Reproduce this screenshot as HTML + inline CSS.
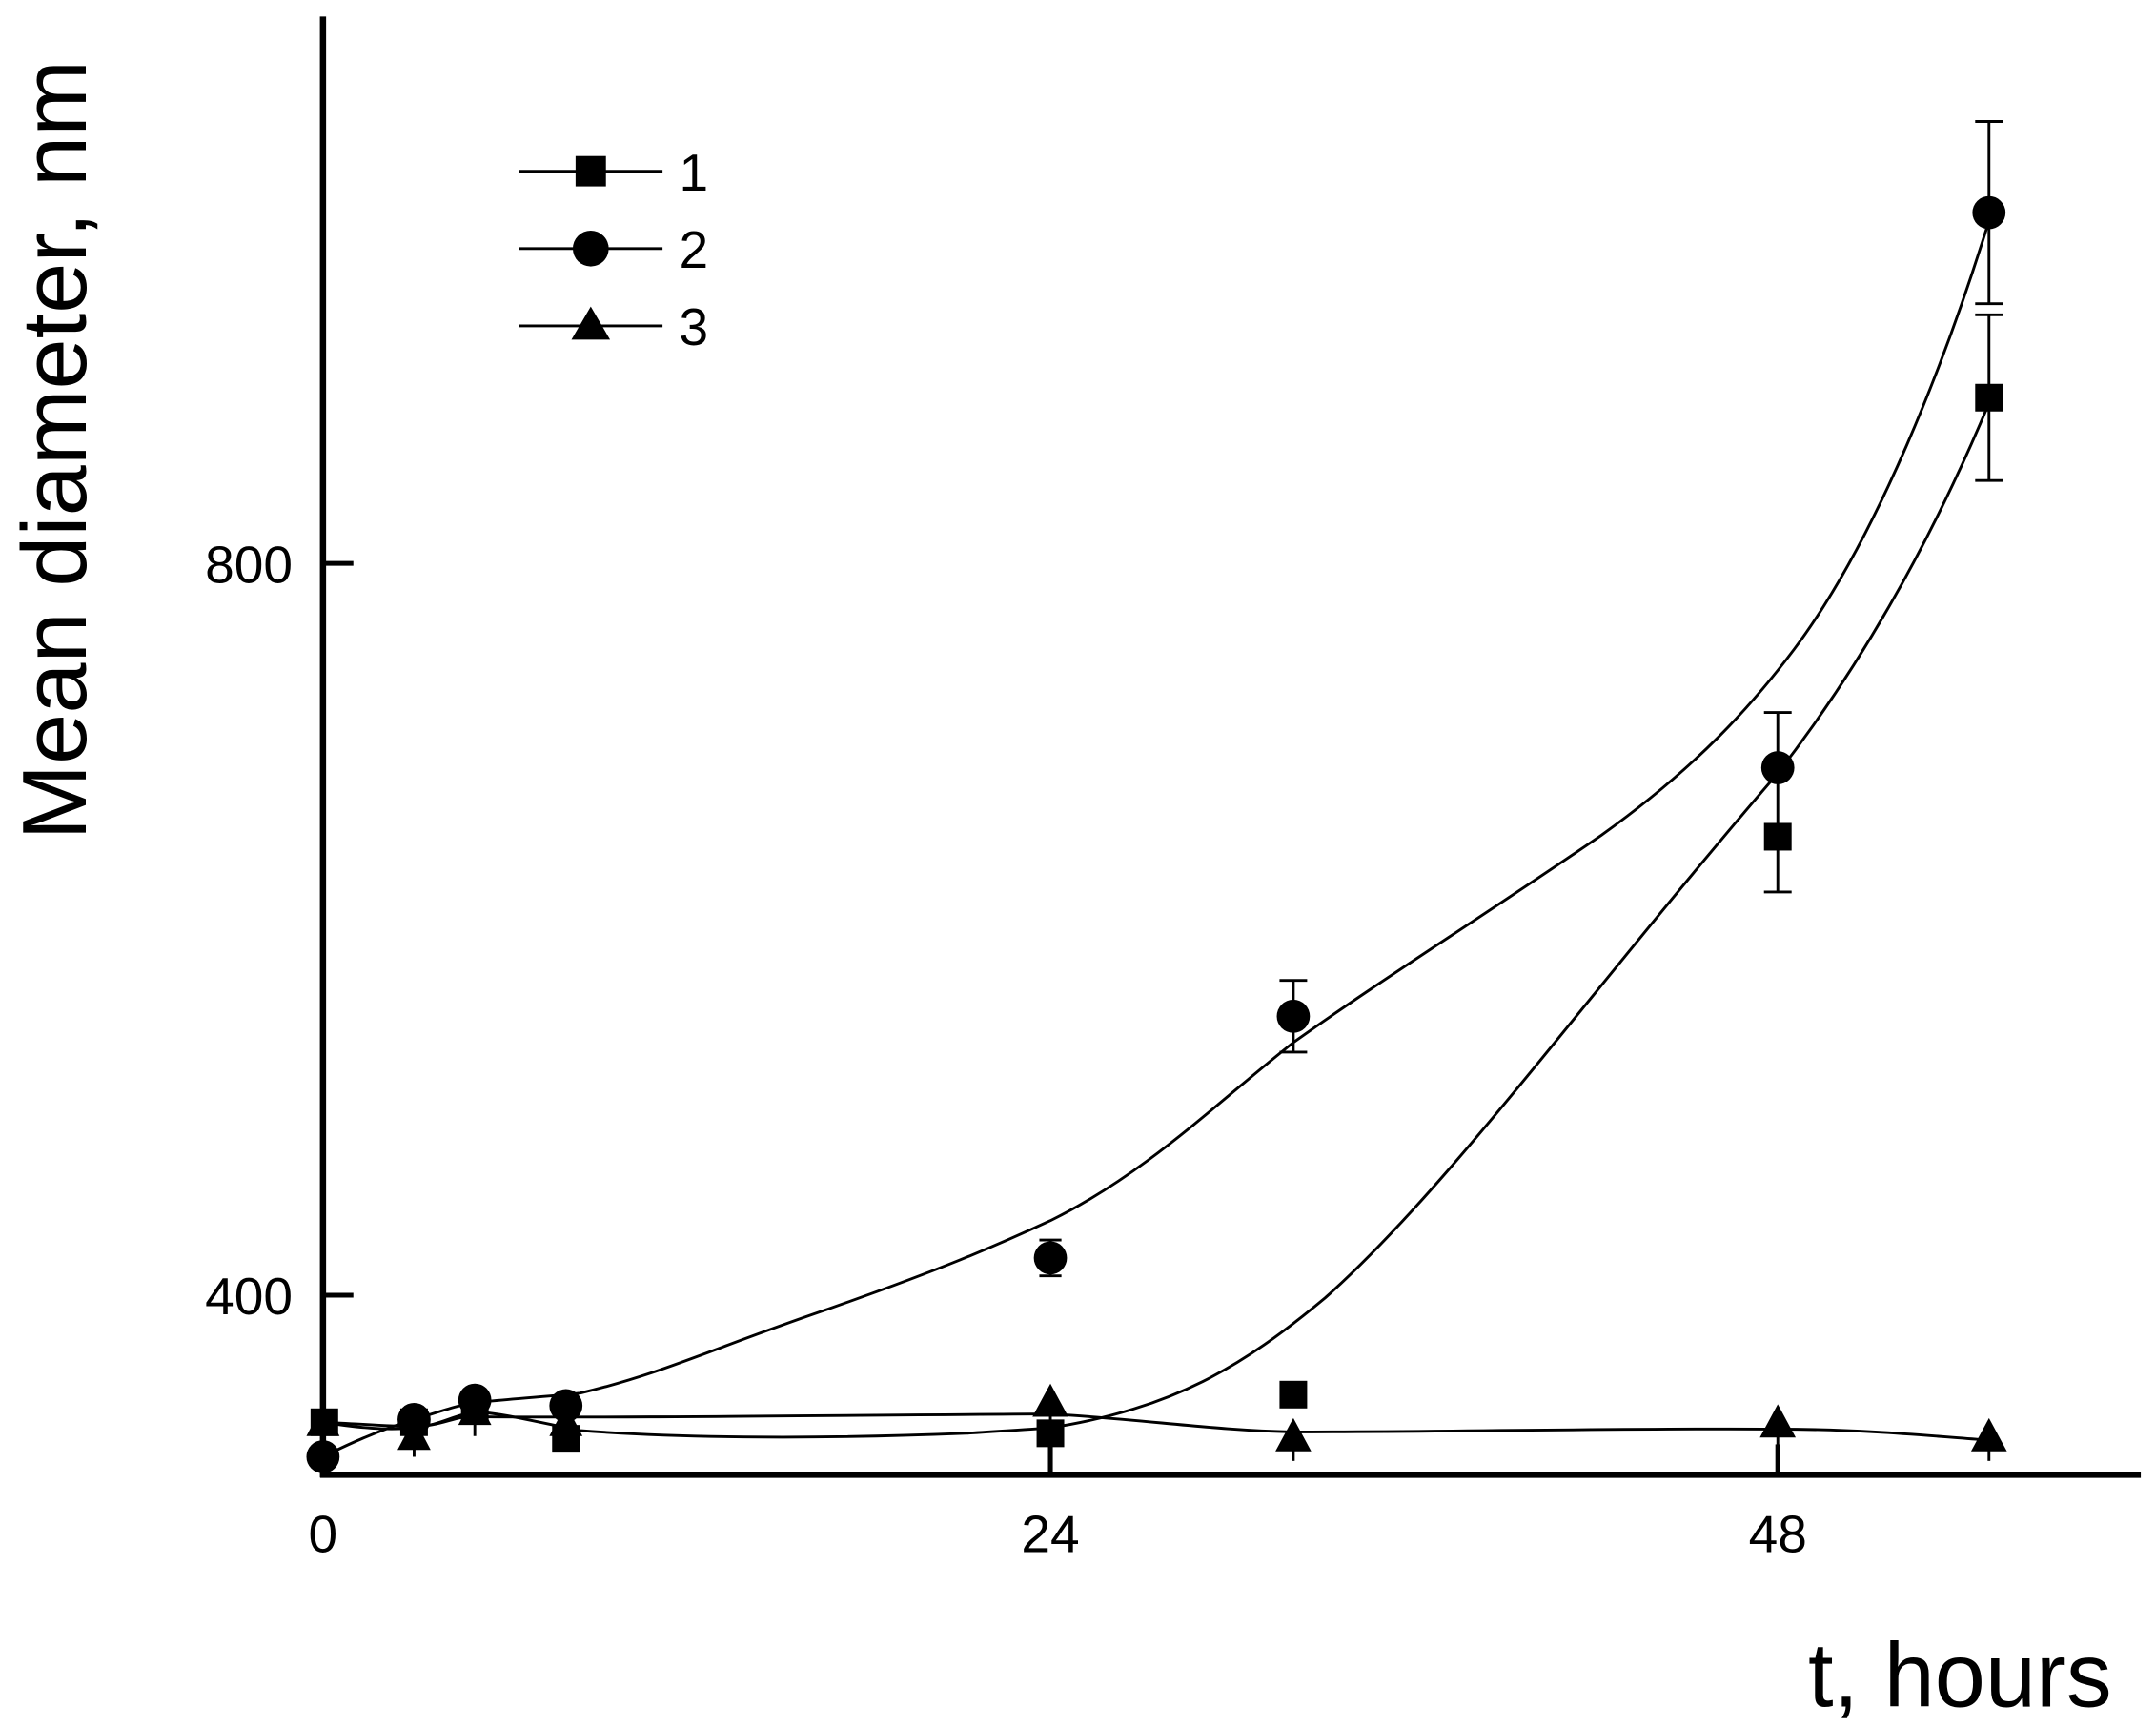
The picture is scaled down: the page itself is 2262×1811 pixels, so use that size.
<!DOCTYPE html>
<html><head><meta charset="utf-8"><style>html,body{margin:0;padding:0;background:#fff}svg{display:block}</style></head><body>
<svg width="2262" height="1811" viewBox="0 0 1562 1250" preserveAspectRatio="none" xmlns="http://www.w3.org/2000/svg" font-family="'Liberation Sans', sans-serif">
<g stroke="#000" fill="none">
<line x1="234" y1="12" x2="234" y2="1070" stroke-width="4.5"/>
<line x1="232" y1="1068" x2="1551" y2="1068" stroke-width="4.5"/>
<line x1="234" y1="408" x2="256" y2="408" stroke-width="3.5"/>
<line x1="234" y1="938" x2="256" y2="938" stroke-width="3.5"/>
<line x1="761" y1="1068" x2="761" y2="1046" stroke-width="3.5"/>
<line x1="1288" y1="1068" x2="1288" y2="1046" stroke-width="3.5"/>
<g stroke-width="2">
<path d="M234,1055 C260,1042 280,1034 300,1028 S330,1018 344,1016 S390,1012 420,1009 C480,995 520,975 600,948 C680,920 720,903 761,884 C830,850 880,800 937,755 C1000,710 1080,660 1160,605 C1230,555 1270,510 1300,470 C1360,390 1410,260 1441,160"/>
<path d="M234,1030 C260,1034 280,1036 300,1034 S330,1024 344,1023 S390,1030 420,1036 C500,1042 600,1042 700,1038 C730,1036 750,1035 761,1034 C850,1020 900,990 960,940 C1050,860 1150,720 1288,560 C1350,480 1400,390 1441,292"/>
<path d="M234,1030 C260,1031 280,1033 300,1033 S330,1025 344,1026 C450,1027 600,1025 761,1024 C830,1028 880,1036 937,1037 C1050,1037 1200,1034 1288,1035 C1350,1035 1400,1040 1441,1043"/>
<line x1="1441" y1="88" x2="1441" y2="220"/><line x1="1431" y1="88" x2="1451" y2="88"/><line x1="1431" y1="220" x2="1451" y2="220"/>
<line x1="1441" y1="228" x2="1441" y2="348"/><line x1="1431" y1="228" x2="1451" y2="228"/><line x1="1431" y1="348" x2="1451" y2="348"/>
<line x1="1288" y1="516" x2="1288" y2="646"/><line x1="1278" y1="516" x2="1298" y2="516"/><line x1="1278" y1="646" x2="1298" y2="646"/>
<line x1="937" y1="710" x2="937" y2="762"/><line x1="927" y1="710" x2="947" y2="710"/><line x1="927" y1="762" x2="947" y2="762"/>
<line x1="761" y1="898" x2="761" y2="924"/><line x1="753" y1="898" x2="769" y2="898"/><line x1="753" y1="924" x2="769" y2="924"/>
<line x1="761" y1="1006" x2="761" y2="1066"/><line x1="937" y1="1030" x2="937" y2="1058"/><line x1="1288" y1="1020" x2="1288" y2="1066"/><line x1="1441" y1="1030" x2="1441" y2="1058"/>
<line x1="300" y1="1020" x2="300" y2="1055"/><line x1="344" y1="1010" x2="344" y2="1040"/>
<line x1="376" y1="124" x2="480" y2="124"/><line x1="376" y1="180" x2="480" y2="180"/><line x1="376" y1="236" x2="480" y2="236"/>
</g></g>
<g fill="#000">
<rect x="417" y="113" width="22" height="22"/><circle cx="428" cy="180" r="13"/><polygon points="428,222 442,246 414,246"/>
<circle cx="234" cy="1055" r="12"/><circle cx="300" cy="1028" r="12"/><circle cx="344" cy="1014" r="12"/><circle cx="410" cy="1018" r="12"/><circle cx="761" cy="911" r="12"/><circle cx="937" cy="736" r="12"/><circle cx="1288" cy="556" r="12"/><circle cx="1441" cy="154" r="12"/>
<rect x="225" y="1020" width="20" height="20"/><rect x="290" y="1020" width="20" height="20"/><rect x="334" y="1010" width="20" height="20"/><rect x="400" y="1032" width="20" height="20"/><rect x="751" y="1028" width="20" height="20"/><rect x="927" y="1000" width="20" height="20"/><rect x="1278" y="596" width="20" height="20"/><rect x="1431" y="278" width="20" height="20"/>
<polygon points="234,1017 246,1040 222,1040"/><polygon points="300,1027 312,1050 288,1050"/><polygon points="344,1009 356,1032 332,1032"/><polygon points="410,1017 422,1040 398,1040"/><polygon points="761,1002 774,1026 748,1026"/><polygon points="937,1027 950,1051 924,1051"/><polygon points="1288,1017 1301,1041 1275,1041"/><polygon points="1441,1027 1454,1051 1428,1051"/>
</g>
<g font-size="38" fill="#000">
<text x="212" y="422" text-anchor="end">800</text>
<text x="212" y="952" text-anchor="end">400</text>
<text x="234" y="1124" text-anchor="middle">0</text>
<text x="761" y="1124" text-anchor="middle">24</text>
<text x="1288" y="1124" text-anchor="middle">48</text>
<text x="492" y="138">1</text><text x="492" y="194">2</text><text x="492" y="250">3</text>
</g>
<text x="1530" y="1236" text-anchor="end" font-size="66">t, hours</text>
<text transform="translate(62,326) rotate(-90)" text-anchor="middle" font-size="66">Mean diameter, nm</text>
</svg>
</body></html>
